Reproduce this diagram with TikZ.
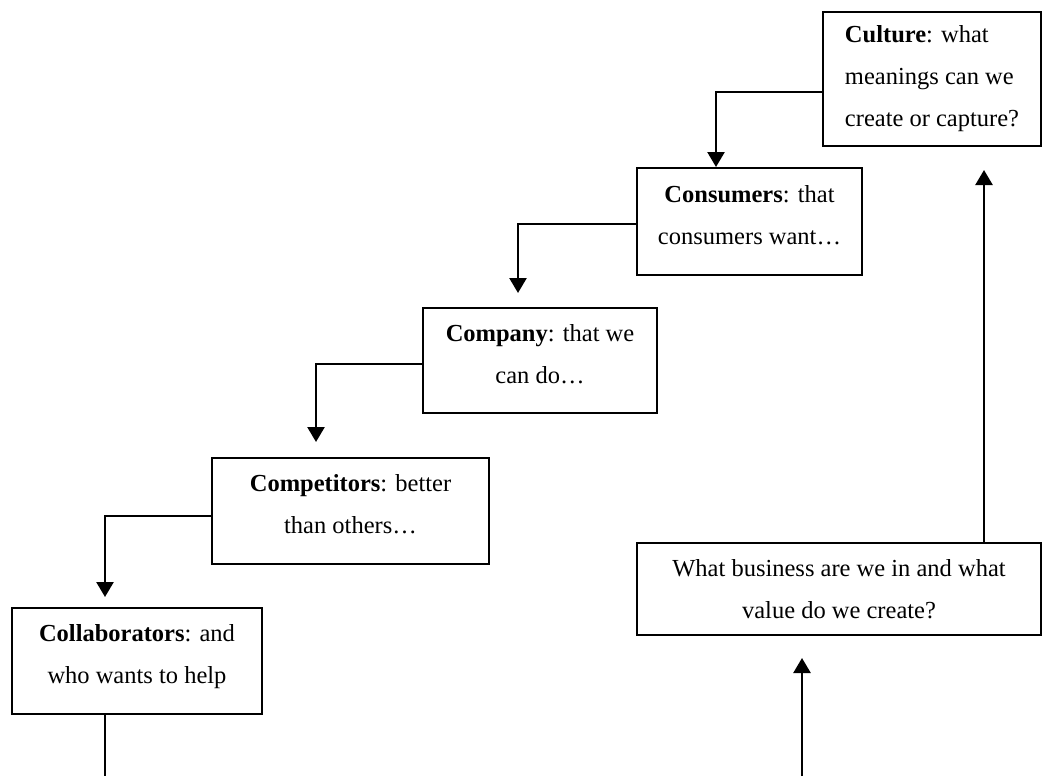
\documentclass[tikz,border=0pt]{standalone}
\usepackage{fontspec}
\setmainfont{Liberation Serif}
\usetikzlibrary{arrows.meta,calc}
\begin{document}
\begin{tikzpicture}[x=0.5pt,y=-0.5pt,
  box/.style={draw,line width=1pt,rectangle,inner sep=0pt,align=center,
    font=\fontsize{12.25}{21}\selectfont},
  up/.style={text depth=7pt},
  arr/.style={line width=1.25pt,-{Triangle[length=7.5pt,width=8.5pt]}},
  ln/.style={line width=1.25pt}]
\useasboundingbox (0,0) rectangle (1043,776);
\node[box,minimum width=109pt,minimum height=67pt,align=left] (culture) at (932,79)
  {\textbf{Culture}: what\\meanings can we\\create or capture?};
\node[box,up,minimum width=112.5pt,minimum height=53.5pt] (consumers) at (749.5,221.5)
  {\textbf{Consumers}: that\\consumers want…};
\node[box,up,minimum width=117pt,minimum height=52.5pt] (company) at (540,360.5)
  {\textbf{Company}: that we\\can do…};
\node[box,up,minimum width=138.5pt,minimum height=53pt] (competitors) at (350.5,511)
  {\textbf{Competitors}: better\\than others…};
\node[box,up,minimum width=125pt,minimum height=53pt] (collab) at (137,661)
  {\textbf{Collaborators}: and\\who wants to help};
\node[box,minimum width=202pt,minimum height=46pt] (business) at (839,589)
  {What business are we in and what\\value do we create?};
\coordinate (bl) at (105,776);
\coordinate (br) at (802,776);
\draw[arr] ($(culture.west)+(0,13)$) -| ($(consumers.north)+(-33.5,0)$);
\draw[arr,shorten >=7pt] ($(consumers.west)+(0,2.5)$) -| ($(company.north)+(-22,0)$);
\draw[arr,shorten >=7.5pt] ($(company.west)+(0,3.5)$) -| ($(competitors.north)+(-34.5,0)$);
\draw[arr,shorten >=5pt] ($(competitors.west)+(0,5)$) -| ($(collab.north)+(-32,0)$);
\draw[ln] ($(collab.south)+(-32,0)$) -- (bl);
\draw[arr,shorten >=11pt] (br) -- (business.south -| br);
\draw[arr,shorten >=11.5pt] ($(business.north)+(145,0)$) -- ($(culture.south)+(52,0)$);
\end{tikzpicture}
\end{document}
